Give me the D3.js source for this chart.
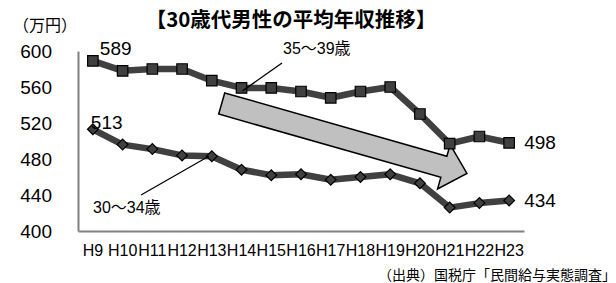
<!DOCTYPE html>
<html>
<head>
<meta charset="utf-8">
<script src="https://cdn.jsdelivr.net/npm/d3@7"></script>
<style>
  body { margin: 0; background: #fff; }
  svg { display: block; }
  text { font-family: "Liberation Sans", Arial, "Noto Sans CJK JP", sans-serif; fill: #000; }
  .jp { font-family: "Noto Sans CJK JP", sans-serif; }
</style>
</head>
<body>
<svg id="chart" width="616" height="283"></svg>
<script>
// years (Heisei)
var years = ["H9","H10","H11","H12","H13","H14","H15","H16","H17","H18","H19","H20","H21","H22","H23"];

// average annual income, 10k yen
var age35to39 = [589, 578, 580, 580, 567, 559, 559, 555, 548, 555, 560, 530, 497, 505, 498];
var age30to34 = [513, 496, 491, 484, 483, 468, 462, 463, 457, 460, 463, 453, 426, 431, 434];

var yTicks = [400, 440, 480, 520, 560, 600];

var svg = d3.select("#chart");

var x = d3.scaleBand().domain(years).range([78, 524]).padding(0);
var y = d3.scaleLinear().domain([400, 600]).range([231, 51]);

function cx(d, i) { return x(years[i]) + x.bandwidth() / 2; }

// title + unit
svg.append("text")
  .attr("class", "jp")
  .attr("x", 291).attr("y", 20)
  .attr("dy", "0.35em")
  .attr("text-anchor", "middle")
  .attr("font-size", 20.5)
  .attr("font-weight", "bold")
  .text("【30歳代男性の平均年収推移】");

svg.append("text")
  .attr("class", "jp")
  .attr("x", 13).attr("y", 25)
  .attr("dy", "0.35em")
  .attr("font-size", 16)
  .text("（万円）");

// axes
var yAxis = svg.append("g")
  .attr("transform", "translate(78,0)")
  .call(d3.axisLeft(y).tickValues(yTicks).tickSize(0).tickPadding(26).tickFormat(d3.format("d")));
yAxis.select(".domain").attr("stroke", "#808080").attr("stroke-width", 2);
yAxis.selectAll("text").attr("font-size", 19).attr("font-family", null);

var xAxis = svg.append("g")
  .attr("transform", "translate(0,231)")
  .call(d3.axisBottom(x).tickSize(0).tickPadding(14));
xAxis.select(".domain").attr("stroke", "#808080").attr("stroke-width", 2);
xAxis.selectAll("text").attr("font-size", 16).attr("font-family", null);

// arrow (annotation)
var tail = [221.7, 103.5], ang = 15.9 * Math.PI / 180, len = 255, hw = 11, hh = 23, hl = 24;
var arrowShape = [[0,-hw],[len-hl,-hw],[len-hl,-hh],[len,0],[len-hl,hh],[len-hl,hw],[0,hw]];
svg.append("polygon")
  .attr("points", arrowShape.map(function(p) { return p.join(","); }).join(" "))
  .attr("transform", "translate(" + tail[0] + "," + tail[1] + ") rotate(" + (ang * 180 / Math.PI) + ")")
  .attr("fill", "#c0c0c0")
  .attr("stroke", "#000")
  .attr("stroke-width", 1.5);

var line = d3.line().x(cx).y(function(d) { return y(d); });

// series lines
[age35to39, age30to34].forEach(function(series) {
  svg.append("path")
    .datum(series)
    .attr("d", line)
    .attr("fill", "none")
    .attr("stroke", "#404040")
    .attr("stroke-width", 6.5)
    .attr("stroke-linejoin", "round");
});

// markers
svg.selectAll(".sq")
  .data(age35to39)
  .enter()
  .append("path")
  .attr("class", "sq")
  .attr("d", d3.symbol().type(d3.symbolSquare).size(110))
  .attr("transform", function(d, i) { return "translate(" + cx(d, i) + "," + y(d) + ")"; })
  .attr("fill", "#404040")
  .attr("stroke", "#000")
  .attr("stroke-width", 1.2);

svg.selectAll(".dm")
  .data(age30to34)
  .enter()
  .append("path")
  .attr("class", "dm")
  .attr("d", d3.symbol().type(d3.symbolSquare).size(58))
  .attr("transform", function(d, i) { return "translate(" + cx(d, i) + "," + y(d) + ") rotate(45)"; })
  .attr("fill", "#404040")
  .attr("stroke", "#000")
  .attr("stroke-width", 1.2);

// leader lines + series names
var n = years.length;
svg.append("line")
  .attr("x1", cx(0, 5) + 1).attr("y1", y(age35to39[5]) + 3)
  .attr("x2", 282).attr("y2", 63)
  .attr("stroke", "#000").attr("stroke-width", 1.3);
svg.append("text")
  .attr("x", 283).attr("y", 48).attr("dy", "0.35em")
  .attr("font-size", 16)
  .text("35～39歳");

svg.append("line")
  .attr("x1", cx(0, 4) - 3).attr("y1", y(age30to34[4]))
  .attr("x2", 141).attr("y2", 195)
  .attr("stroke", "#000").attr("stroke-width", 1.3);
svg.append("text")
  .attr("x", 93).attr("y", 207.5).attr("dy", "0.35em")
  .attr("font-size", 16)
  .text("30～34歳");

// value labels
svg.append("text")
  .attr("x", cx(0, 0) + 7).attr("y", y(age35to39[0]) - 13).attr("dy", "0.35em")
  .attr("font-size", 19).text(age35to39[0]);
svg.append("text")
  .attr("x", cx(0, 0) - 2).attr("y", y(age30to34[0]) - 7).attr("dy", "0.35em")
  .attr("font-size", 19).text(age30to34[0]);
svg.append("text")
  .attr("x", cx(0, n - 1) + 15).attr("y", y(age35to39[n - 1])).attr("dy", "0.35em")
  .attr("font-size", 19).text(age35to39[n - 1]);
svg.append("text")
  .attr("x", cx(0, n - 1) + 15).attr("y", y(age30to34[n - 1])).attr("dy", "0.35em")
  .attr("font-size", 19).text(age30to34[n - 1]);

// source
svg.append("text")
  .attr("class", "jp")
  .attr("x", 616).attr("y", 275).attr("dy", "0.35em")
  .attr("text-anchor", "end")
  .attr("font-size", 14)
  .text("（出典）国税庁「民間給与実態調査」");
</script>
</body>
</html>
